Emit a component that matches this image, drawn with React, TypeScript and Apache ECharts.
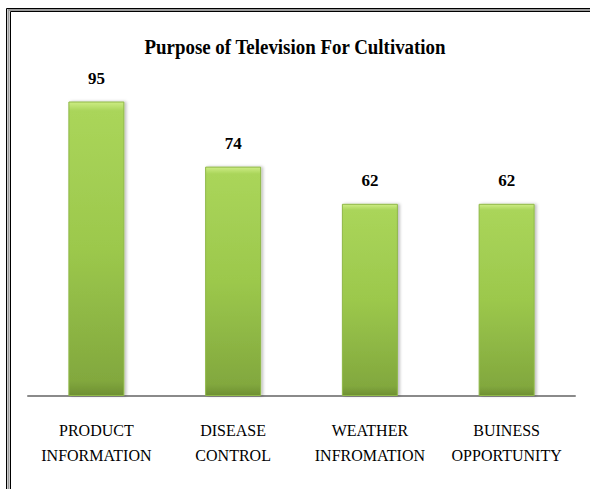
import React, { useEffect, useRef } from "react";
import * as echarts from "echarts";

const categories = ["PRODUCT\nINFORMATION", "DISEASE\nCONTROL", "WEATHER\nINFROMATION", "BUINESS\nOPPORTUNITY"];
const values = [95, 74, 62, 62];
const titleText = "Purpose of Television For Cultivation";

export default function App() {
  const ref = useRef<HTMLDivElement>(null);
  useEffect(() => {
    const chart = echarts.init(ref.current!, null, { renderer: "svg" });
    chart.setOption({
      animation: false,
      backgroundColor: "#ffffff",
      grid: { left: 28, right: 15, top: 86, bottom: 93, containLabel: false },
      xAxis: {
        type: "category",
        data: categories,
        axisLine: { lineStyle: { color: "#8a8a8a", width: 2 } },
        axisTick: { show: false },
        axisLabel: {
          color: "#000",
          fontFamily: "Liberation Serif, 'Times New Roman', serif",
          fontSize: 16,
          lineHeight: 25,
          margin: 22,
          interval: 0,
        },
      },
      yAxis: { type: "value", min: 0, max: 100, show: false, splitLine: { show: false } },
      series: [
        {
          type: "bar",
          data: values,
          barWidth: 56,
          label: {
            show: true,
            position: "top",
            distance: 15,
            color: "#000",
            fontFamily: "Liberation Serif, 'Times New Roman', serif",
            fontWeight: "bold",
            fontSize: 17,
          },
          itemStyle: {
            color: new echarts.graphic.LinearGradient(0, 0, 0, 1, [
              { offset: 0, color: "#cdec84" },
              { offset: 0.03, color: "#aad55a" },
              { offset: 0.5, color: "#9cc84c" },
              { offset: 0.95, color: "#82a83e" },
              { offset: 1, color: "#6e9032" },
            ]),
            borderColor: "#8fb848",
            borderWidth: 1,
            shadowColor: "rgba(0,0,0,0.25)",
            shadowBlur: 3,
            shadowOffsetX: 2,
          },
        },
      ],
      graphic: [
        { type: "rect", shape: { x: 6.5, y: 8.5, width: 700, height: 700 }, style: { fill: "none", stroke: "#000", lineWidth: 1 } },
        { type: "rect", shape: { x: 8.5, y: 10, width: 700, height: 700 }, style: { fill: "none", stroke: "#9a9a9a", lineWidth: 2 } },
        { type: "rect", shape: { x: 10.5, y: 11.5, width: 700, height: 700 }, style: { fill: "none", stroke: "#000", lineWidth: 1 } },
        {
          type: "text",
          x: 295,
          y: 46,
          scaleX: 0.86,
          style: {
            text: titleText,
            fontFamily: "Liberation Serif, 'Times New Roman', serif",
            fontWeight: "bold",
            fontSize: 22,
            fill: "#000",
            align: "center",
            verticalAlign: "middle",
          },
        },
      ],
    });
    return () => chart.dispose();
  }, []);
  return <div ref={ref} style={{ position: "fixed", left: 0, top: 0, width: 590, height: 489 }} />;
}
